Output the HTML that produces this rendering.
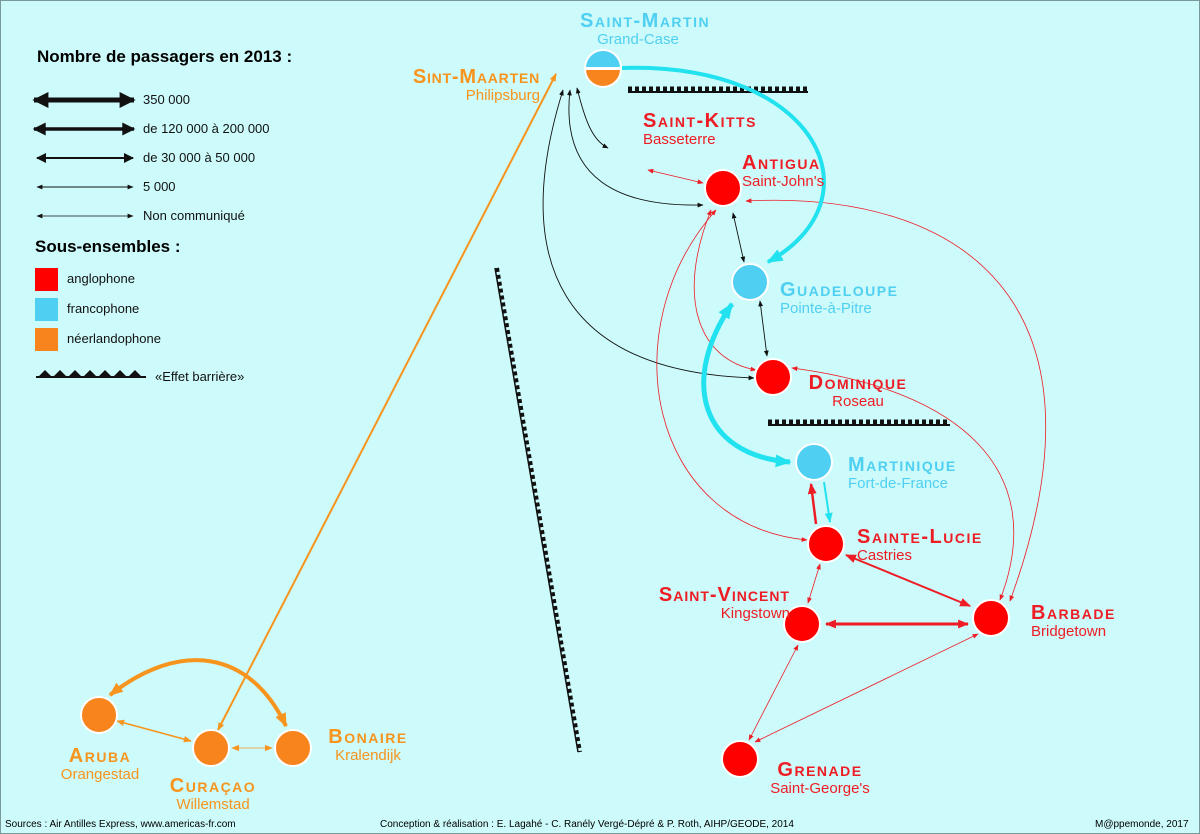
<!DOCTYPE html>
<html><head><meta charset="utf-8"><style>
html,body{margin:0;padding:0}
body{width:1200px;height:834px;background:#cdfafa;position:relative;overflow:hidden;font-family:"Liberation Sans",sans-serif}
.t{position:absolute;white-space:nowrap}
.n{font-weight:bold;font-variant:small-caps;letter-spacing:1.5px;font-size:20px;line-height:20px}
.c{font-size:15px;line-height:17px}
.lg{font-size:13px;color:#111}
.r{color:#ee1c24}.b{color:#4fd0f2}.o{color:#f7941d}
</style></head><body>
<svg width="1200" height="834" style="position:absolute;left:0;top:0">
<defs>
<marker id="ak" viewBox="0 0 10 10" refX="9" refY="5" markerWidth="6" markerHeight="6" orient="auto-start-reverse" markerUnits="userSpaceOnUse"><path d="M0,1 L10,5 L0,9z" fill="#111"/></marker>
<marker id="ar" viewBox="0 0 10 10" refX="9" refY="5" markerWidth="6" markerHeight="6" orient="auto-start-reverse" markerUnits="userSpaceOnUse"><path d="M0,1 L10,5 L0,9z" fill="#ee1c24"/></marker>
<marker id="ar2" viewBox="0 0 10 10" refX="9" refY="5" markerWidth="11" markerHeight="11" orient="auto-start-reverse" markerUnits="userSpaceOnUse"><path d="M0,1 L10,5 L0,9z" fill="#ee1c24"/></marker>
<marker id="ao" viewBox="0 0 10 10" refX="9" refY="5" markerWidth="8" markerHeight="8" orient="auto-start-reverse" markerUnits="userSpaceOnUse"><path d="M0,1 L10,5 L0,9z" fill="#f7941d"/></marker>
<marker id="ao2" viewBox="0 0 10 10" refX="9" refY="5" markerWidth="14" markerHeight="14" orient="auto-start-reverse" markerUnits="userSpaceOnUse"><path d="M0,1 L10,5 L0,9z" fill="#f7941d"/></marker>
<marker id="ac" viewBox="0 0 10 10" refX="9" refY="5" markerWidth="16" markerHeight="16" orient="auto-start-reverse" markerUnits="userSpaceOnUse"><path d="M0,1 L10,5 L0,9z" fill="#22e2f0"/></marker>
<marker id="ac2" viewBox="0 0 10 10" refX="9" refY="5" markerWidth="10" markerHeight="10" orient="auto-start-reverse" markerUnits="userSpaceOnUse"><path d="M0,1 L10,5 L0,9z" fill="#22e2f0"/></marker>
<marker id="lk1" viewBox="0 0 10 10" refX="9" refY="5" markerWidth="22" markerHeight="16" orient="auto-start-reverse" markerUnits="userSpaceOnUse"><path d="M0,0 L10,5 L0,10z" fill="#111"/></marker>
<marker id="lk2" viewBox="0 0 10 10" refX="9" refY="5" markerWidth="18" markerHeight="13" orient="auto-start-reverse" markerUnits="userSpaceOnUse"><path d="M0,0 L10,5 L0,10z" fill="#111"/></marker>
<marker id="lk3" viewBox="0 0 10 10" refX="9" refY="5" markerWidth="13" markerHeight="10" orient="auto-start-reverse" markerUnits="userSpaceOnUse"><path d="M0,0 L10,5 L0,10z" fill="#111"/></marker>
</defs>
<rect x="0.5" y="0.5" width="1199" height="833" fill="none" stroke="#7a9a9a"/>
<line x1="34" y1="100" x2="134" y2="100" stroke="#111" stroke-width="5" marker-start="url(#lk1)" marker-end="url(#lk1)"/>
<line x1="34" y1="129" x2="134" y2="129" stroke="#111" stroke-width="3.5" marker-start="url(#lk2)" marker-end="url(#lk2)"/>
<line x1="37" y1="158" x2="133" y2="158" stroke="#111" stroke-width="2" marker-start="url(#lk3)" marker-end="url(#lk3)"/>
<line x1="37" y1="187" x2="133" y2="187" stroke="#111" stroke-width="1" marker-start="url(#ak)" marker-end="url(#ak)"/>
<line x1="37" y1="216" x2="133" y2="216" stroke="#111" stroke-width="0.7" marker-start="url(#ak)" marker-end="url(#ak)"/>
<rect x="35" y="268" width="23" height="23" fill="#ff0000"/>
<rect x="35" y="298" width="23" height="23" fill="#4fd0f2"/>
<rect x="35" y="328" width="23" height="23" fill="#f7841d"/>
<g fill="#111"><line x1="36" y1="377" x2="146" y2="377" stroke="#111" stroke-width="2"/>
<path d="M38,377 l7,-7 l7,7z M53,377 l7,-7 l7,7z M68,377 l7,-7 l7,7z M83,377 l7,-7 l7,7z M98,377 l7,-7 l7,7z M113,377 l7,-7 l7,7z M128,377 l7,-7 l7,7z"/></g>
<line x1="628" y1="92" x2="808" y2="92" stroke="#111" stroke-width="2"/>
<line x1="628" y1="89" x2="808" y2="89" stroke="#111" stroke-width="5" stroke-dasharray="4,3"/>
<line x1="768" y1="425" x2="950" y2="425" stroke="#111" stroke-width="2"/>
<line x1="768" y1="422" x2="950" y2="422" stroke="#111" stroke-width="5" stroke-dasharray="4,3"/>
<line x1="495" y1="268" x2="578" y2="752" stroke="#111" stroke-width="1.5"/>
<line x1="497" y1="268" x2="580" y2="752" stroke="#111" stroke-width="4" stroke-dasharray="4,3"/>
<g fill="none" stroke="#111" stroke-width="0.9">
<path d="M577,88 C585,120 592,140 608,148" marker-start="url(#ak)" marker-end="url(#ak)"/>
<path d="M570,90 C560,180 620,207 703,205" marker-start="url(#ak)" marker-end="url(#ak)"/>
<path d="M563,90 C510,260 560,372 754,378" marker-start="url(#ak)" marker-end="url(#ak)"/>
<path d="M733,213 L744,262" marker-start="url(#ak)" marker-end="url(#ak)"/>
<path d="M760,301 L767,356" marker-start="url(#ak)" marker-end="url(#ak)"/>
</g>
<g fill="none" stroke="#ee1c24" stroke-width="0.8">
<path d="M648,170 L703,183" marker-start="url(#ar)" marker-end="url(#ar)"/>
<path d="M716,210 C610,330 650,525 807,540" marker-start="url(#ar)" marker-end="url(#ar)"/>
<path d="M711,210 C675,300 700,360 756,370" marker-start="url(#ar)" marker-end="url(#ar)"/>
<path d="M746,201 C960,190 1120,300 1010,601" marker-start="url(#ar)" marker-end="url(#ar)"/>
<path d="M792,368 C960,390 1050,470 1000,600" marker-start="url(#ar)" marker-end="url(#ar)"/>
<path d="M820,564 L808,603" marker-start="url(#ar)" marker-end="url(#ar)"/>
<path d="M755,742 L978,634" marker-start="url(#ar)" marker-end="url(#ar)"/>
<path d="M749,740 L798,645" marker-start="url(#ar)" marker-end="url(#ar)"/>
</g>
<line x1="846" y1="555" x2="970" y2="606" stroke="#ee1c24" stroke-width="2" marker-start="url(#ar2)" marker-end="url(#ar2)"/>
<line x1="826" y1="624" x2="968" y2="624" stroke="#ee1c24" stroke-width="3" marker-start="url(#ar2)" marker-end="url(#ar2)"/>
<line x1="816" y1="524" x2="811" y2="484" stroke="#ee1c24" stroke-width="2.5" marker-end="url(#ar2)"/>
<line x1="824" y1="482" x2="830" y2="522" stroke="#22e2f0" stroke-width="2" marker-end="url(#ac2)"/>
<path d="M622,68 C820,62 880,200 768,262" fill="none" stroke="#22e2f0" stroke-width="4" marker-end="url(#ac)"/>
<path d="M732,304 C680,380 700,455 790,462" fill="none" stroke="#22e2f0" stroke-width="5" marker-start="url(#ac)" marker-end="url(#ac)"/>
<line x1="218" y1="730" x2="556" y2="74" stroke="#f7941d" stroke-width="2" marker-start="url(#ao)" marker-end="url(#ao)"/>
<path d="M110,695 C180,640 250,650 286,726" fill="none" stroke="#f7941d" stroke-width="4" marker-start="url(#ao2)" marker-end="url(#ao2)"/>
<line x1="117" y1="721" x2="191" y2="741" stroke="#f7941d" stroke-width="1.5" marker-start="url(#ao)" marker-end="url(#ao)"/>
<line x1="232" y1="748" x2="272" y2="748" stroke="#f7941d" stroke-width="0.8" marker-start="url(#ao)" marker-end="url(#ao)"/>
<g stroke="#fff" stroke-width="2">
<path d="M585,68 A18,18 0 0 1 621,68 Z" fill="#4fd0f2"/>
<path d="M585,69 A18,18 0 0 0 621,69 Z" fill="#f7841d"/>
<circle cx="723" cy="188" r="18" fill="#ff0000"/>
<circle cx="750" cy="282" r="18" fill="#4fd0f2"/>
<circle cx="773" cy="377" r="18" fill="#ff0000"/>
<circle cx="814" cy="462" r="18" fill="#4fd0f2"/>
<circle cx="826" cy="544" r="18" fill="#ff0000"/>
<circle cx="802" cy="624" r="18" fill="#ff0000"/>
<circle cx="991" cy="618" r="18" fill="#ff0000"/>
<circle cx="740" cy="759" r="18" fill="#ff0000"/>
<circle cx="99" cy="715" r="18" fill="#f7841d"/>
<circle cx="211" cy="748" r="18" fill="#f7841d"/>
<circle cx="293" cy="748" r="18" fill="#f7841d"/>
</g>
</svg>
<div class="t" style="left:37px;top:47px;font-weight:bold;font-size:17px">Nombre de passagers en 2013 :</div>
<div class="t lg" style="left:143px;top:92px">350 000</div>
<div class="t lg" style="left:143px;top:121px">de 120 000 à 200 000</div>
<div class="t lg" style="left:143px;top:150px">de 30 000 à 50 000</div>
<div class="t lg" style="left:143px;top:179px">5 000</div>
<div class="t lg" style="left:143px;top:208px">Non communiqué</div>
<div class="t" style="left:35px;top:237px;font-weight:bold;font-size:17px">Sous-ensembles :</div>
<div class="t lg" style="left:67px;top:271px">anglophone</div>
<div class="t lg" style="left:67px;top:301px">francophone</div>
<div class="t lg" style="left:67px;top:331px">néerlandophone</div>
<div class="t lg" style="left:155px;top:369px">«Effet barrière»</div>

<div class="t b" style="left:580px;top:11px;text-align:center;width:116px"><div class="n">Saint-Martin</div><div class="c">Grand-Case</div></div>
<div class="t o" style="left:400px;top:67px;text-align:right;width:140px"><div class="n" style="letter-spacing:0.8px">Sint-Maarten</div><div class="c">Philipsburg</div></div>
<div class="t r" style="left:643px;top:111px"><div class="n">Saint-Kitts</div><div class="c">Basseterre</div></div>
<div class="t r" style="left:742px;top:153px"><div class="n">Antigua</div><div class="c">Saint-John's</div></div>
<div class="t b" style="left:780px;top:280px"><div class="n">Guadeloupe</div><div class="c">Pointe-à-Pitre</div></div>
<div class="t r" style="left:802px;top:373px;text-align:center;width:112px"><div class="n">Dominique</div><div class="c">Roseau</div></div>
<div class="t b" style="left:848px;top:455px"><div class="n">Martinique</div><div class="c">Fort-de-France</div></div>
<div class="t r" style="left:857px;top:527px"><div class="n">Sainte-Lucie</div><div class="c">Castries</div></div>
<div class="t r" style="left:630px;top:585px;text-align:right;width:160px"><div class="n" style="letter-spacing:1px">Saint-Vincent</div><div class="c">Kingstown</div></div>
<div class="t r" style="left:1031px;top:603px"><div class="n">Barbade</div><div class="c">Bridgetown</div></div>
<div class="t r" style="left:764px;top:760px;text-align:center;width:112px"><div class="n">Grenade</div><div class="c">Saint-George's</div></div>
<div class="t o" style="left:55px;top:746px;text-align:center;width:90px"><div class="n">Aruba</div><div class="c">Orangestad</div></div>
<div class="t o" style="left:168px;top:776px;text-align:center;width:90px"><div class="n">Curaçao</div><div class="c">Willemstad</div></div>
<div class="t o" style="left:318px;top:727px;text-align:center;width:100px"><div class="n">Bonaire</div><div class="c">Kralendijk</div></div>

<div class="t" style="left:5px;top:819px;font-size:10px">Sources : Air Antilles Express, www.americas-fr.com</div>
<div class="t" style="left:380px;top:819px;font-size:10px">Conception &amp; réalisation : E. Lagahé - C. Ranély Vergé-Dépré &amp; P. Roth, AIHP/GEODE, 2014</div>
<div class="t" style="left:1095px;top:819px;font-size:10px">M@ppemonde, 2017</div>
</body></html>
